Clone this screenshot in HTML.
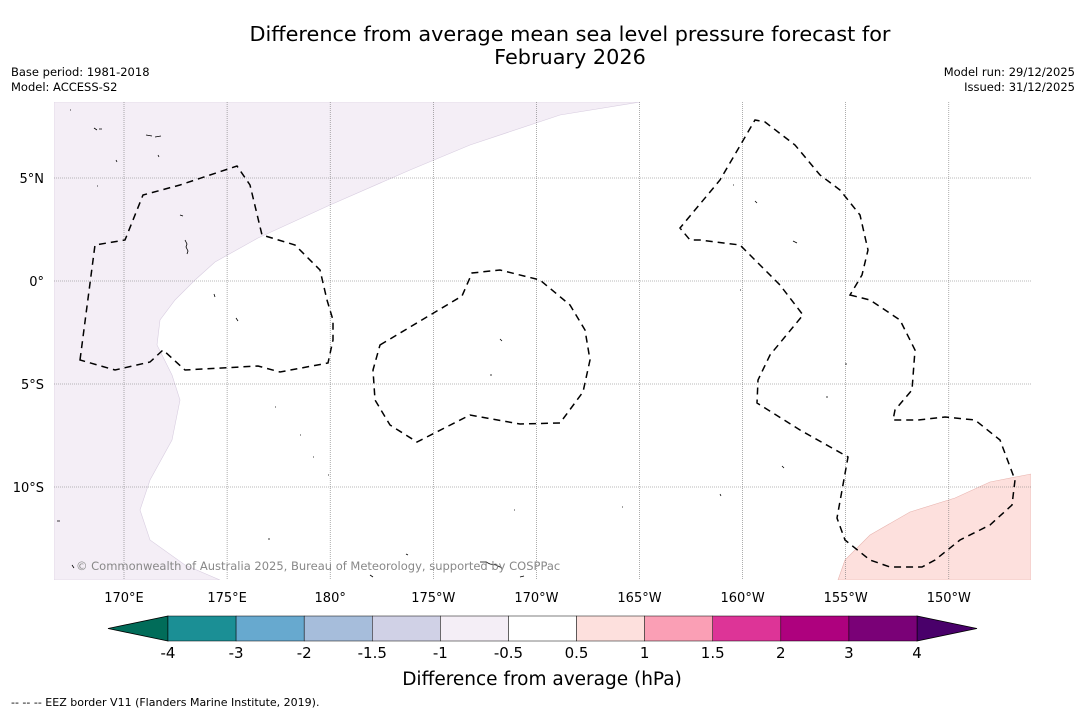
<!DOCTYPE html>
<html><head><meta charset="utf-8"><style>
body{margin:0;background:#fff;width:1085px;height:713px;overflow:hidden;font-family:"Liberation Sans","DejaVu Sans",sans-serif}
</style></head><body>
<svg width="1085" height="713" viewBox="0 0 1085 713" xmlns="http://www.w3.org/2000/svg" font-family="'DejaVu Sans','Liberation Sans',sans-serif">
<rect width="1085" height="713" fill="#fff"/>
<text x="570" y="41" font-size="20.8" text-anchor="middle">Difference from average mean sea level pressure forecast for</text>
<text x="570" y="64" font-size="20.8" text-anchor="middle">February 2026</text>
<text x="11" y="76" font-size="11.5">Base period: 1981-2018</text>
<text x="11" y="91" font-size="11.5">Model: ACCESS-S2</text>
<text x="1075" y="76" font-size="11.5" text-anchor="end">Model run: 29/12/2025</text>
<text x="1075" y="91" font-size="11.5" text-anchor="end">Issued: 31/12/2025</text>
<g id="map">
<clipPath id="mc"><rect x="54" y="102" width="977" height="478"/></clipPath>
<g clip-path="url(#mc)">
<path fill="#f4eef6" stroke="#d8cde0" stroke-width="0.6" d="M54,102 L640,102 L560,115 L470,145 L410,170 L330,205 L258,238 L215,262 L195,280 L175,300 L160,320 L157,345 L172,375 L180,400 L172,440 L150,480 L140,510 L150,540 L185,565 L220,580 L54,580 Z"/>
<path fill="#fde0dd" stroke="#e8b5b0" stroke-width="0.6" d="M838,580 L845,560 L870,535 L910,512 L955,498 L990,482 L1031,474 L1031,580 Z"/>
<g id="grid"></g>
<g fill="none" stroke="#000" stroke-width="1.5" stroke-dasharray="7,5">
<path d="M80,360 L95,245 L125,240 L143,195 L180,185 L237,166 L250,185 L262,235 L295,245 L320,270 L327,300 L333,320 L333,340 L328,363 L280,372 L258,366 L185,370 L163,350 L150,362 L115,370 Z"/>
<path d="M380,345 L462,296 L472,273 L500,270 L540,280 L570,305 L585,330 L590,360 L583,392 L560,423 L520,424 L470,415 L417,442 L390,425 L375,400 L373,370 Z"/>
<path d="M850,295 L870,300 L900,320 L915,350 L912,390 L895,410 L893,420 L918,420 L945,417 L975,420 L1000,440 L1015,480 L1012,505 L990,525 L960,540 L935,560 L922,567 L890,567 L870,560 L845,540 L837,518 L848,457 L800,430 L757,403 L758,380 L770,355 L803,315 L780,285 L755,260 L740,245 L700,240 L690,240 L680,228 L720,180 L755,120 L765,122 L795,145 L820,175 L840,190 L860,215 L868,250 L862,275 Z"/>
</g>
<g fill="none" stroke="#000" stroke-width="0.8">
<path d="M94,128 l3,2 M99,129 l3,0 M146,135 l6,1 M155,137 l6,-1 M158,155 l1,2 M185,240 l2,4 l-1,3 l2,4 l-1,3 M180,215 l3,1 M214,294 l1,3 M236,318 l2,3 M500,339 l2,2 M490,375 l2,0 M755,201 l2,2 M793,241 l4,2 M782,466 l2,2 M720,494 l1,2 M480,562 l6,0 l4,2 l6,1 l6,3 M57,521 l3,0 M268,539 l2,0 M406,554 l2,1 M845,364 l2,0 M826,397 l2,0 M72,565 l2,3 M370,575 l3,2 M520,577 l4,-1 M70,110 l1,0 M116,160 l1,2 M97,186 l1,0 M275,407 l1,0 M300,435 l1,0 M313,457 l1,0 M328,475 l1,0 M514,510 l1,0 M622,507 l1,0 M733,185 l1,0 M740,290 l1,0"/>
</g>
</g>
<text x="76" y="570" font-size="11.5" fill="#888">© Commonwealth of Australia 2025, Bureau of Meteorology, supported by COSPPac</text>
<g id="axlabels"></g>
</g>
<g id="cbar"></g>
<text x="542" y="685" font-size="18.5" text-anchor="middle">Difference from average (hPa)</text>
<text x="11" y="706" font-size="11">--  --  -- EEZ border V11 (Flanders Marine Institute, 2019).</text>
</svg>
<script>
const NS="http://www.w3.org/2000/svg";
const lonTicks=[170,175,180,185,190,195,200,205,210];
const lonLabels=["170°E","175°E","180°","175°W","170°W","165°W","160°W","155°W","150°W"];
const latTicks=[5,0,-5,-10];
const latLabels=["5°N","0°","5°S","10°S"];
const cbLevels=["-4","-3","-2","-1.5","-1","-0.5","0.5","1","1.5","2","3","4"];
const cbColors=["#1b8f95","#67a9cf","#a6bddb","#d0d1e6","#f4eef6","#ffffff","#fde0dd","#fa9fb5","#dd3497","#ae017e","#7a0177"];
const cbUnder="#016c59", cbOver="#49006a";
const X=lon=>124+(lon-170)*20.62;
const Y=lat=>281-lat*20.6;
function mk(t,a,p){const e=document.createElementNS(NS,t);for(const k in a)e.setAttribute(k,a[k]);p.appendChild(e);return e;}
const grid=document.getElementById('grid'), axl=document.getElementById('axlabels');
lonTicks.forEach((v,i)=>{
 const l=mk('line',{x1:X(v),x2:X(v),y1:102,y2:580,stroke:'#777','stroke-width':0.6,'stroke-dasharray':'1,1'},grid);
 
 
 const t=mk('text',{x:X(v),y:602,'font-size':13,'text-anchor':'middle'},axl);t.textContent=lonLabels[i];
 
 
});
latTicks.forEach((v,i)=>{
 const l=mk('line',{x1:54,x2:1031,y1:Y(v),y2:Y(v),stroke:'#777','stroke-width':0.6,'stroke-dasharray':'1,1'},grid);
 
 
 const t=mk('text',{x:44,y:Y(v)+5,'font-size':13,'text-anchor':'end'},axl);t.textContent=latLabels[i];
 
 
});
const cb=document.getElementById('cbar');
const x0=168,x1=917,y0=616,y1=641,n=cbColors.length,w=(x1-x0)/n;
const tl=mk('polygon',{points:`108,${(y0+y1)/2} ${x0},${y0} ${x0},${y1}`,fill:cbUnder,stroke:'#000','stroke-width':0.8},cb);


const tr=mk('polygon',{points:`977,${(y0+y1)/2} ${x1},${y0} ${x1},${y1}`,fill:cbOver,stroke:'#000','stroke-width':0.8},cb);


cbColors.forEach((c,i)=>{
 const r=mk('rect',{x:x0+i*w,y:y0,width:w,height:y1-y0,fill:c,stroke:'#000','stroke-width':0.5},cb);
 
 
});
cbLevels.forEach((s,i)=>{
 const t=mk('text',{x:x0+i*w,y:658,'font-size':15,'text-anchor':'middle'},cb);t.textContent=s;
 
 
});
</script>
</body></html>
